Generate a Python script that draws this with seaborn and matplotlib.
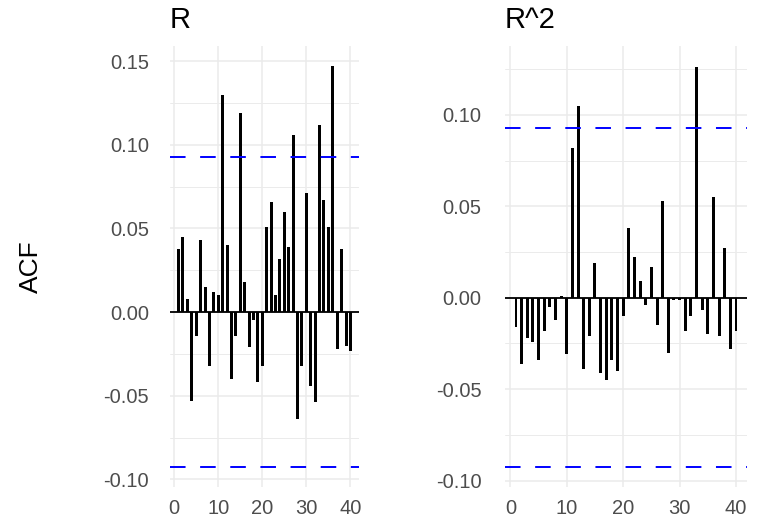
import matplotlib.pyplot as plt
import seaborn as sns

# lags and autocorrelations
lags = list(range(1, 41))
acf_r = [0.038, 0.045, 0.008, -0.053, -0.014, 0.043, 0.015, -0.032, 0.012, 0.010,
         0.130, 0.040, -0.040, -0.014, 0.119, 0.018, -0.021, -0.005, -0.042, -0.032,
         0.051, 0.066, 0.010, 0.032, 0.060, 0.039, 0.106, -0.064, -0.032, 0.071,
         -0.044, -0.054, 0.112, 0.067, 0.051, 0.147, -0.022, 0.038, -0.020, -0.023]
acf_r2 = [-0.016, -0.036, -0.022, -0.024, -0.034, -0.018, -0.005, -0.012, 0.001, -0.031,
          0.082, 0.105, -0.039, -0.021, 0.019, -0.041, -0.045, -0.034, -0.040, -0.010,
          0.038, 0.022, 0.009, -0.004, 0.017, -0.015, 0.053, -0.030, -0.001, -0.001,
          -0.018, -0.010, 0.126, -0.007, -0.020, 0.055, -0.021, 0.027, -0.028, -0.018]
conf = 0.0925
titles = ["R", "R^2"]
xticks = [0, 10, 20, 30, 40]
yticks_r = [-0.10, -0.05, 0.00, 0.05, 0.10, 0.15]
yticks_r2 = [-0.10, -0.05, 0.00, 0.05, 0.10]

sns.set_theme(style="whitegrid")
plt.rcParams['font.family'] = ['Liberation Sans', 'DejaVu Sans']
plt.rcParams['axes.unicode_minus'] = False

fig = plt.figure(figsize=(7.58, 5.21), dpi=100)
ax1 = fig.add_axes([170/758, 1 - 487/521, 189/758, 441/521])
ax2 = fig.add_axes([505/758, 1 - 487/521, 242/758, 441/521])


def acf_panel(ax, vals, title, ylim, yticks, bw, ypad):
    sns.barplot(x=lags, y=vals, native_scale=True, color='black', saturation=1,
                width=bw, linewidth=0, errorbar=None, ax=ax)
    ax.axhline(0, color='black', lw=1.3)
    for c in (conf, -conf):
        ax.axhline(c, color='#0000FF', lw=1.4, linestyle=(0, (8, 7.5)))
    ax.set_xlim(-0.95, 41.95)
    ax.set_ylim(*ylim)
    ax.set_xticks(xticks)
    ax.set_xticklabels([str(t) for t in xticks])
    ax.set_yticks(yticks)
    ax.set_yticklabels([f"{t:.2f}" for t in yticks])
    minors = [t + 0.025 for t in yticks] + [yticks[0] - 0.025]
    ax.set_yticks([m for m in minors if ylim[0] < m < ylim[1]], minor=True)
    ax.grid(which='major', color='#EBEBEB', lw=1.1)
    ax.grid(which='minor', axis='y', color='#EBEBEB', lw=0.7)
    ax.grid(which='minor', axis='x', visible=False)
    ax.tick_params(which='both', length=0, labelsize=14.5, labelcolor='#4D4D4D')
    ax.tick_params(axis='x', pad=9)
    ax.tick_params(axis='y', pad=ypad)
    for s in ax.spines.values():
        s.set_visible(False)
    ax.set_xlabel('')
    ax.set_ylabel('')
    ax.set_title(title, loc='left', fontsize=21, pad=13, color='black')


acf_panel(ax1, acf_r, titles[0], (-0.1045, 0.159), yticks_r, 0.68, 15)
acf_panel(ax2, acf_r2, titles[1], (-0.1035, 0.1376), yticks_r2, 0.53, 17)

ax1.set_ylabel('ACF', fontsize=19, color='black', va='center')
ax1.yaxis.set_label_coords(-0.735, 0.5)

fig.savefig('out.png', dpi=100, facecolor='white')
